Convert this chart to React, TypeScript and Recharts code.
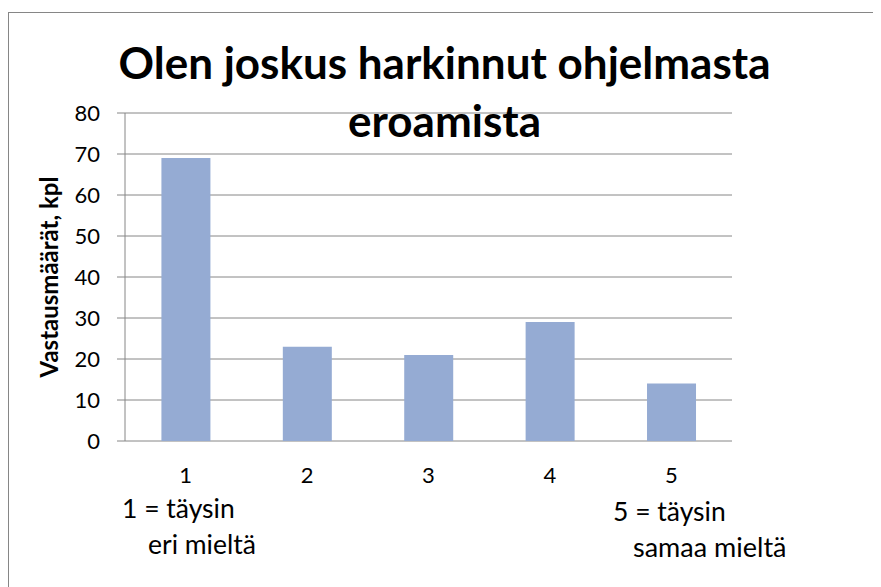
import React from 'react';
import { BarChart, Bar, XAxis, YAxis, CartesianGrid, Customized } from 'recharts';

const categories = ['1', '2', '3', '4', '5'];
const counts = [69, 23, 21, 29, 14];
const yTicks = [0, 10, 20, 30, 40, 50, 60, 70, 80];
const edgeTicks = [0, 1, 2, 3, 4, 5];
const titleLines = ['Olen joskus harkinnut ohjelmasta', 'eroamista'];
const yLabel = 'Vastausmäärät, kpl';
const leftNote = ['1 = täysin', 'eri mieltä'];
const rightNote = ['5 = täysin', 'samaa mieltä'];

const data = categories.map((c, i) => ({ cat: c, value: counts[i] }));

const FONT = "Lato, 'Noto Sans', sans-serif";
const GRAY = '#868686';

const Overlay = () => (
  <g fontFamily={FONT} fill="#000">
    <text x={436.5} y={71} textAnchor="middle" fontSize={44} fontWeight="bold">{titleLines[0]}</text>
    <text x={436.5} y={129} textAnchor="middle" fontSize={44} fontWeight="bold">{titleLines[1]}</text>
    <text x={40} y={269} textAnchor="middle" dominantBaseline="central" fontSize={24} fontWeight="bold" transform="rotate(-90 40 269)">{yLabel}</text>
    <text x={114} y={510} fontSize={26.5}>{leftNote[0]}</text>
    <text x={140} y={546} fontSize={26.5}>{leftNote[1]}</text>
    <text x={605} y={513} fontSize={26.5}>{rightNote[0]}</text>
    <text x={625} y={549} fontSize={27}>{rightNote[1]}</text>
  </g>
);

const CatTick = (props: any) => {
  const { x, y, payload } = props;
  return (
    <text x={x} y={y} dy={16} textAnchor="middle" fontSize={22} fontFamily={FONT} fill="#000">
      {payload.value}
    </text>
  );
};

export default function App() {
  return (
    <div style={{ position: 'relative', width: 873, height: 579, fontFamily: FONT, background: '#fff' }}>
      <div style={{ position: 'absolute', left: 0, top: 4, width: 873, height: 575, borderTop: `1px solid ${GRAY}`, borderLeft: `1px solid ${GRAY}`, boxSizing: 'border-box' }} />
      <BarChart
        width={873}
        height={579}
        data={data}
        margin={{ top: 105, right: 149, bottom: 116, left: 0 }}
        barCategoryGap="30%"
        style={{ position: 'absolute', left: 0, top: 0 }}
      >
        <CartesianGrid vertical={false} stroke={GRAY} strokeWidth={1} />
        <XAxis
          xAxisId={0}
          type="number"
          domain={[0, 5]}
          ticks={edgeTicks}
          tick={false}
          tickSize={8}
          height={0}
          axisLine={{ stroke: GRAY }}
          tickLine={{ stroke: GRAY }}
          allowDataOverflow
        />
        <XAxis
          xAxisId="cat"
          dataKey="cat"
          height={30}
          tickLine={false}
          axisLine={false}
          tickSize={0}
          tickMargin={26}
          tick={<CatTick />}
          interval={0}
        />
        <YAxis
          width={117}
          domain={[0, 80]}
          ticks={yTicks}
          tickSize={8}
          tickMargin={17}
          axisLine={{ stroke: GRAY }}
          tickLine={{ stroke: GRAY }}
          tick={{ fill: '#000', fontSize: 22, fontFamily: FONT }}
          interval={0}
        />
        <Bar xAxisId="cat" dataKey="value" fill="#95abd3" isAnimationActive={false} />
        <Customized component={Overlay} />
      </BarChart>
    </div>
  );
}
